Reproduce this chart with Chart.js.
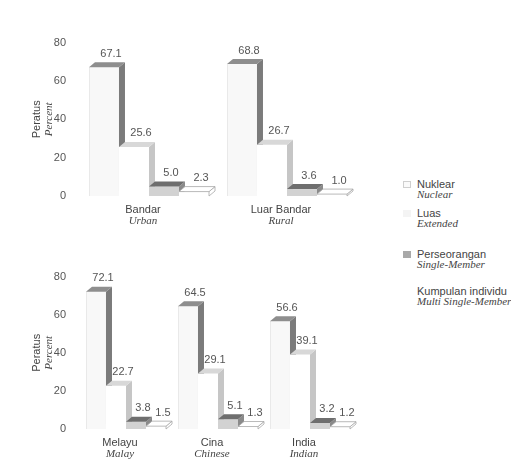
<!DOCTYPE html>
<html>
<head>
<meta charset="utf-8">
<script src="https://cdn.jsdelivr.net/npm/chart.js@4/dist/chart.umd.min.js"></script>
<style>
  body { margin: 0; background: #fff; width: 511px; height: 466px; position: relative; overflow: hidden; font-family: "Liberation Sans", Arial, sans-serif; }
  .box { position: absolute; left: 0; width: 370px; }
  #topBox { top: 22px; height: 215px; }
  #botBox { top: 256px; height: 210px; }
  #legend { position: absolute; left: 403px; top: 170px; color: #444; font-size: 11px; }
  .item { position: absolute; left: 0; white-space: nowrap; }
  .sw { position: absolute; left: 0; top: 3px; width: 8px; height: 7px; box-sizing: border-box; }
  .ms { position: absolute; left: 14px; top: 0; }
  .en { position: absolute; left: 14px; top: 10px; font-family: "Liberation Serif", "DejaVu Serif", serif; font-style: italic; }
</style>
</head>
<body>
<div class="box" id="topBox"><canvas id="topChart"></canvas></div>
<div class="box" id="botBox"><canvas id="botChart"></canvas></div>
<div id="legend"></div>
<script>
// categories
const strataMs = ['Bandar', 'Luar Bandar'];
const strataEn = ['Urban', 'Rural'];
const ethnicMs = ['Melayu', 'Cina', 'India'];
const ethnicEn = ['Malay', 'Chinese', 'Indian'];

// household types
const typeMs = ['Nuklear', 'Luas', 'Perseorangan', 'Kumpulan individu'];
const typeEn = ['Nuclear', 'Extended', 'Single-Member', 'Multi Single-Member'];

// percent by strata
const nuklearStrata = [67.1, 68.8];
const luasStrata = [25.6, 26.7];
const seorangStrata = [5.0, 3.6];
const kumpulanStrata = [2.3, 1.0];

// percent by ethnic group
const nuklearEthnic = [72.1, 64.5, 56.6];
const luasEthnic = [22.7, 29.1, 39.1];
const seorangEthnic = [3.8, 5.1, 3.2];
const kumpulanEthnic = [1.5, 1.3, 1.2];

const yTicks = [0, 20, 40, 60, 80];

const faces = [
  { front: '#f8f8f8', side: '#7b7b7b', top: '#8e8e8e', edge: '#dedede' },
  { front: '#ffffff', side: '#c6c6c6', top: '#d8d8d8', edge: '#e2e2e2' },
  { front: '#d2d2d2', side: '#8a8a8a', top: '#6e6e6e', edge: '#c0c0c0' },
  { front: '#ffffff', side: '#ffffff', top: '#ffffff', edge: '#a8a8a8' }
];
const DX = 6, DY = 5;
const sans = '"Liberation Sans", Arial, sans-serif';
const serif = '"Liberation Serif", "DejaVu Serif", serif';

function poly(ctx, pts, fill, stroke) {
  ctx.beginPath();
  ctx.moveTo(pts[0][0], pts[0][1]);
  for (let i = 1; i < pts.length; i++) ctx.lineTo(pts[i][0], pts[i][1]);
  ctx.closePath();
  ctx.fillStyle = fill;
  ctx.fill();
  if (stroke) { ctx.strokeStyle = stroke; ctx.lineWidth = 0.8; ctx.stroke(); }
}

// draws 3D bars, values, titles and category labels
const bars3d = {
  id: 'bars3d',
  afterDatasetsDraw(chart, args, opts) {
    const ctx = chart.ctx;
    const area = chart.chartArea;
    ctx.save();
    chart.data.datasets.forEach((ds, di) => {
      const f = faces[di];
      chart.getDatasetMeta(di).data.forEach(bar => {
        const l = bar.x - bar.width / 2, r = bar.x + bar.width / 2;
        const t = bar.y, b = bar.base;
        const edge = di === 3 ? f.edge : null;
        poly(ctx, [[l, t], [r, t], [r, b], [l, b]], f.front, null);
        if (di === 0) { ctx.strokeStyle = f.edge; ctx.lineWidth = 0.6; ctx.beginPath(); ctx.moveTo(l + 0.5, b); ctx.lineTo(l + 0.5, t); ctx.stroke(); }
        poly(ctx, [[r, t], [r + DX, t - DY], [r + DX, b - DY], [r, b]], f.side, edge);
        poly(ctx, [[l, t], [l + DX, t - DY], [r + DX, t - DY], [r, t]], f.top, edge);
      });
    });
    // values
    ctx.font = '11px ' + sans;
    ctx.fillStyle = '#555';
    ctx.textAlign = 'center';
    ctx.textBaseline = 'bottom';
    chart.data.datasets.forEach((ds, di) => {
      chart.getDatasetMeta(di).data.forEach((bar, i) => {
        ctx.fillText(ds.data[i].toFixed(1), bar.x + DX + 1, bar.y - DY - 3);
      });
    });
    // category labels
    const xs = chart.scales.x;
    ctx.textBaseline = 'middle';
    opts.ms.forEach((m, i) => {
      const cx = xs.getPixelForValue(i) - 6;
      ctx.font = '11px ' + sans;
      ctx.fillStyle = '#444';
      ctx.fillText(m, cx, area.bottom + 14);
      ctx.font = 'italic 11px ' + serif;
      ctx.fillText(opts.en[i], cx, area.bottom + 25);
    });
    // y title
    const midY = (area.top + area.bottom) / 2;
    ctx.translate(0, midY);
    ctx.rotate(-Math.PI / 2);
    ctx.font = '11px ' + sans;
    ctx.fillStyle = '#444';
    ctx.fillText('Peratus', 0, 37);
    ctx.font = 'italic 11px ' + serif;
    ctx.fillText('Percent', 0, 49);
    ctx.restore();
  }
};

function makeChart(id, ms, en, series, padTop, padBottom) {
  new Chart(document.getElementById(id), {
    type: 'bar',
    data: {
      labels: ms,
      datasets: series.map((d, i) => ({
        label: typeMs[i],
        data: d,
        backgroundColor: 'rgba(0,0,0,0)',
        borderWidth: 0,
        barPercentage: 1,
        categoryPercentage: 0.87
      }))
    },
    options: {
      responsive: true,
      maintainAspectRatio: false,
      animation: false,
      layout: { padding: { top: padTop, bottom: padBottom, right: 14, left: 0 } },
      plugins: {
        legend: { display: false },
        tooltip: { enabled: false },
        bars3d: { ms: ms, en: en }
      },
      scales: {
        x: { display: false },
        y: {
          min: 0,
          max: 80,
          afterFit: s => { s.width = 80; },
          afterBuildTicks: s => { s.ticks = yTicks.map(v => ({ value: v })); },
          border: { display: false },
          grid: { display: false, drawTicks: false },
          ticks: { padding: 14, color: '#555', font: { family: sans, size: 11 } }
        }
      }
    },
    plugins: [bars3d]
  });
}

makeChart('topChart', strataMs, strataEn,
  [nuklearStrata, luasStrata, seorangStrata, kumpulanStrata], 14, 41);
makeChart('botChart', ethnicMs, ethnicEn,
  [nuklearEthnic, luasEthnic, seorangEthnic, kumpulanEthnic], 15, 37);

// legend
const legendTops = [8, 37, 78, 115];
const swatches = [
  'background:#fafafa;border:1px solid #cfcfcf',
  'background:#f4f4f4',
  'background:#a9a9a9',
  ''
];
const legend = document.getElementById('legend');
typeMs.forEach((m, i) => {
  const it = document.createElement('div');
  it.className = 'item';
  it.style.top = legendTops[i] + 'px';
  it.innerHTML = '<div class="sw" style="' + swatches[i] + '"></div>' +
    '<div class="ms">' + m + '</div><div class="en">' + typeEn[i] + '</div>';
  legend.appendChild(it);
});
</script>
</body>
</html>
